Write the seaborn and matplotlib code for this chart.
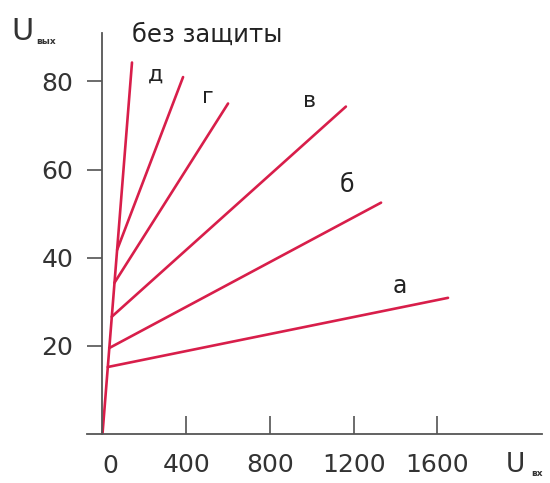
import matplotlib
matplotlib.use('Agg')
import matplotlib.pyplot as plt
import seaborn as sns
import pandas as pd

# characteristic curves: each one starts on the "no protection" line and goes to its end point
curves = ['без защиты', 'д', 'г', 'в', 'б', 'а']
start_x = [0, 70, 57, 44, 32, 25]
start_y = [0, 41.8, 34.3, 26.6, 19.5, 15.2]
end_x = [141, 385, 600, 1163, 1331, 1651]
end_y = [84.3, 81, 75, 74.3, 52.5, 30.9]

x_ticks = [400, 800, 1200, 1600]
y_ticks = [20, 40, 60, 80]

rows = []
for name, x0, y0, x1, y1 in zip(curves, start_x, start_y, end_x, end_y):
    rows.append({'curve': name, 'Uin': x0, 'Uout': y0})
    rows.append({'curve': name, 'Uin': x1, 'Uout': y1})
df = pd.DataFrame(rows)

sns.set_style('white')
plt.rcParams['font.family'] = ['DejaVu Sans']

fig = plt.figure(figsize=(5.5, 4.83), dpi=100)
ax = fig.add_axes([87 / 550, 49 / 483, 455 / 550, 401 / 483])

red = '#d81e4a'
sns.lineplot(data=df, x='Uin', y='Uout', units='curve', estimator=None,
             sort=False, color=red, linewidth=1.9, ax=ax)

ax.set_xlim(-74, 2100)
ax.set_ylim(0, 91)
ax.spines['left'].set_position(('data', 0))
ax.spines['top'].set_visible(False)
ax.spines['right'].set_visible(False)
for s in ['left', 'bottom']:
    ax.spines[s].set_color('#555555')
    ax.spines[s].set_linewidth(1.3)

ax.set_xticks(x_ticks)
ax.set_yticks(y_ticks)
ax.tick_params(axis='x', direction='in', length=13, width=1.1, color='#444444',
               labelsize=18, labelcolor='#333333', pad=14)
ax.tick_params(axis='y', direction='out', length=11, width=1.1, color='#444444',
               labelsize=18, labelcolor='#333333', pad=10)
ax.tick_params(left=True, bottom=True)
ax.set_xlabel('')
ax.set_ylabel('')

# "0" under the origin
ax.text(36, -7.2, '0', fontsize=18, color='#333333', ha='center', va='center',
        clip_on=False)

# curve labels
ax.text(500, 90.5, 'без защиты', fontsize=17.5, color='#222222', ha='center', va='center', clip_on=False)
ax.text(255, 81.5, 'д', fontsize=16, color='#222222', ha='center', va='center')
ax.text(505, 76.5, 'г', fontsize=16, color='#222222', ha='center', va='center')
ax.text(990, 75.5, 'в', fontsize=16, color='#222222', ha='center', va='center')
ax.text(1168, 56.5, 'б', fontsize=17, color='#222222', ha='center', va='center')
ax.text(1421, 33.5, 'а', fontsize=17, color='#222222', ha='center', va='center')

# axis names
fig.text(11 / 550, 1 - 31 / 483, 'U', fontsize=22, color='#333333', va='center')
fig.text(36 / 550, 1 - 41 / 483, 'вых', fontsize=6.5, color='#333333',
         va='center', fontweight='bold')
fig.text(506 / 550, 1 - 465 / 483, 'U', fontsize=19, color='#333333', va='center')
fig.text(531 / 550, 1 - 473 / 483, 'вх', fontsize=6.5, color='#333333',
         va='center', fontweight='bold')

fig.savefig('out.png', dpi=100, facecolor='white')
